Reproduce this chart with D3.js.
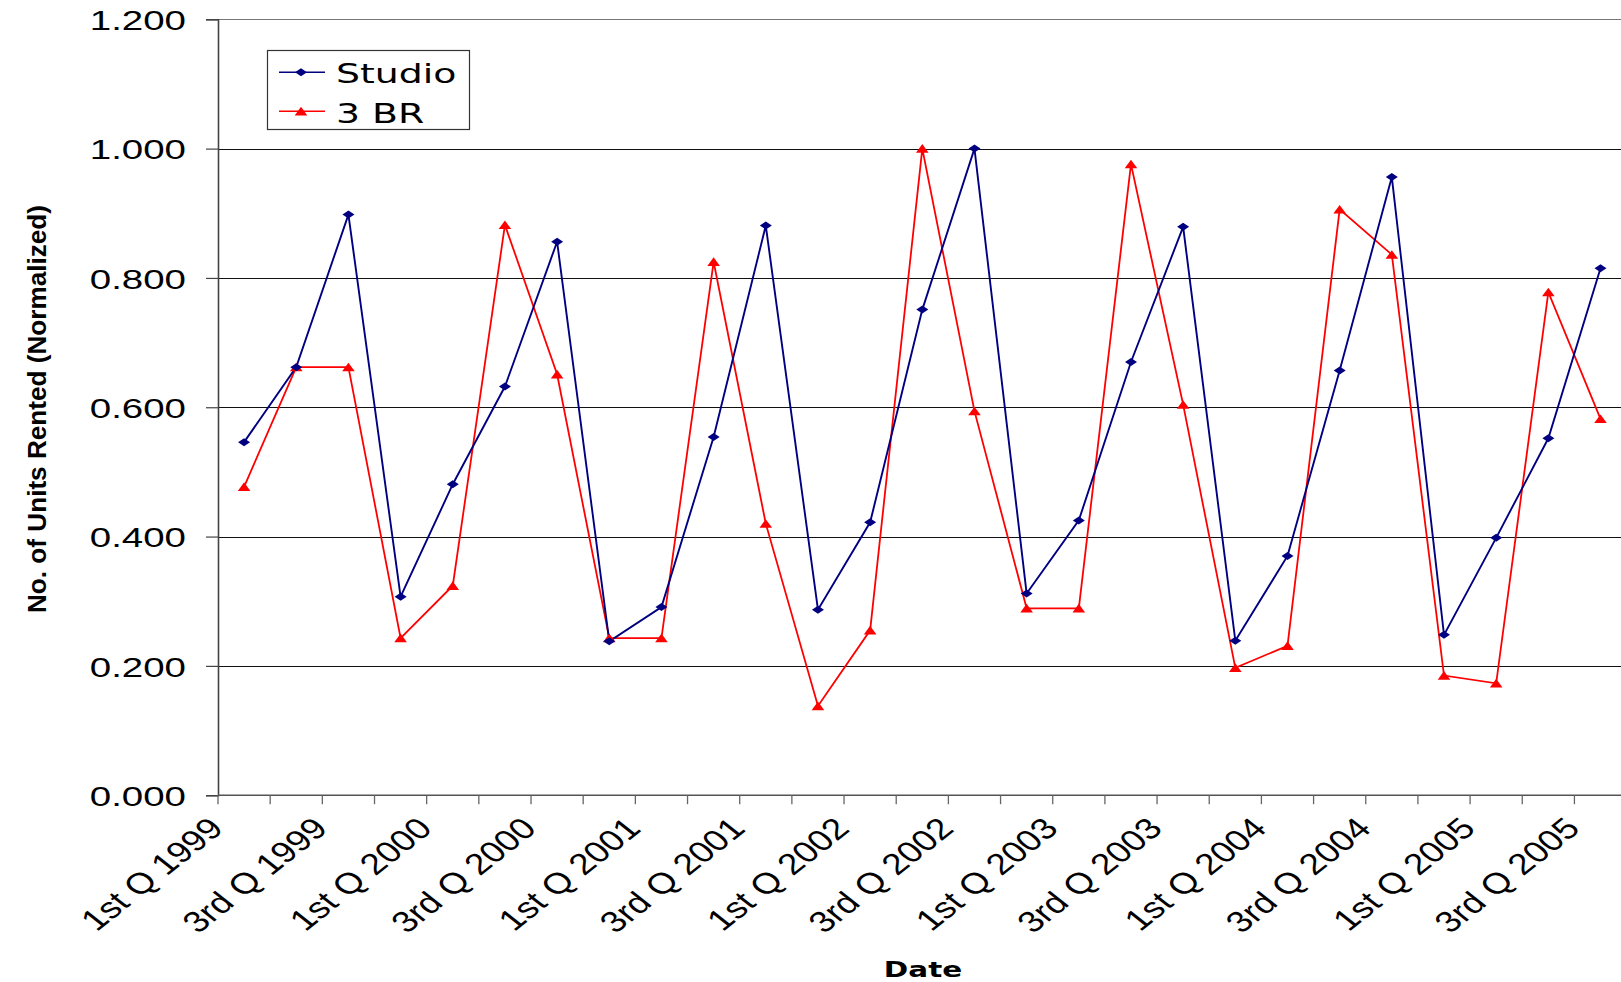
<!DOCTYPE html>
<html>
<head>
<meta charset="utf-8">
<script src="https://cdn.jsdelivr.net/npm/d3@7"></script>
<style>
  html, body { margin: 0; padding: 0; background: #fff; }
  svg { display: block; }
</style>
</head>
<body>
<svg id="chart" width="1621" height="982"></svg>
<script>
// Quarterly rentals, normalized to each unit type's peak quarter
const quarters = [
  "1st Q 1999", "2nd Q 1999", "3rd Q 1999", "4th Q 1999",
  "1st Q 2000", "2nd Q 2000", "3rd Q 2000", "4th Q 2000",
  "1st Q 2001", "2nd Q 2001", "3rd Q 2001", "4th Q 2001",
  "1st Q 2002", "2nd Q 2002", "3rd Q 2002", "4th Q 2002",
  "1st Q 2003", "2nd Q 2003", "3rd Q 2003", "4th Q 2003",
  "1st Q 2004", "2nd Q 2004", "3rd Q 2004", "4th Q 2004",
  "1st Q 2005", "2nd Q 2005", "3rd Q 2005"
];
const studio = [
  0.546, 0.662, 0.898, 0.307, 0.481, 0.632, 0.856, 0.238, 0.291,
  0.554, 0.881, 0.287, 0.422, 0.751, 1.000, 0.312, 0.425, 0.670,
  0.879, 0.239, 0.370, 0.657, 0.956, 0.248, 0.398, 0.552, 0.815
];
const threeBR = [
  0.477, 0.662, 0.662, 0.243, 0.324, 0.882, 0.651, 0.243, 0.243,
  0.825, 0.420, 0.138, 0.255, 1.000, 0.594, 0.289, 0.289, 0.976,
  0.604, 0.197, 0.231, 0.906, 0.836, 0.185, 0.173, 0.778, 0.582
];
const yTicks = [0, 0.2, 0.4, 0.6, 0.8, 1.0, 1.2];
const seriesNames = ["Studio", "3 BR"];

(function draw() {
  const svg = d3.select("#chart");
  const W = 1621, H = 982;
  const plotLeft = 218, plotRight = 1626.6, plotTop = 19.3, plotBottom = 795.2;

  const x = d3.scaleBand().domain(quarters).range([plotLeft, plotRight]).padding(0);
  const y = d3.scaleLinear().domain([0, 1.2]).range([plotBottom, plotTop]);
  const cx = d => x(d) + x.bandwidth() / 2;

  svg.append("rect").attr("width", W).attr("height", H).attr("fill", "#fff");

  // horizontal gridlines
  svg.append("g")
    .selectAll("line")
    .data(yTicks.filter(d => d > 0))
    .join("line")
    .attr("x1", plotLeft).attr("x2", W)
    .attr("y1", d => Math.round(y(d)) + 0.5).attr("y2", d => Math.round(y(d)) + 0.5)
    .attr("stroke", d => d === 1.2 ? "#777" : "#111")
    .attr("stroke-width", 1);

  // y axis
  const yAxis = svg.append("g")
    .attr("transform", `translate(${plotLeft},0)`)
    .call(d3.axisLeft(y).tickValues(yTicks).tickSize(12).tickPadding(0)
      .tickFormat(d3.format(".3f")));
  yAxis.select(".domain").attr("stroke", "#444").attr("stroke-width", 1.6);
  yAxis.selectAll(".tick line").attr("stroke", "#444").attr("stroke-width", 1.2);
  yAxis.selectAll(".tick text")
    .attr("x", 0).attr("dy", "0.36em")
    .attr("transform", "translate(-32,0) scale(1.35,1)")
    .attr("text-anchor", "end")
    .attr("fill", "#000")
    .style("font-family", "'Liberation Sans', Arial, sans-serif")
    .style("font-size", "28.5px");

  // x axis line
  svg.append("line")
    .attr("x1", plotLeft).attr("x2", W)
    .attr("y1", plotBottom).attr("y2", plotBottom)
    .attr("stroke", "#555").attr("stroke-width", 1.6);

  // category boundary ticks
  svg.append("g")
    .selectAll("line")
    .data(quarters.concat([null]))
    .join("line")
    .attr("x1", d => d === null ? plotRight : x(d))
    .attr("x2", d => d === null ? plotRight : x(d))
    .attr("y1", plotBottom).attr("y2", plotBottom + 9)
    .attr("stroke", "#666").attr("stroke-width", 1.3);

  // x labels (every other quarter)
  const xAxis = svg.append("g")
    .attr("transform", `translate(0,${plotBottom})`)
    .call(d3.axisBottom(x).tickSize(0)
      .tickFormat((d, i) => i % 2 === 0 ? d : ""));
  xAxis.select(".domain").remove();
  xAxis.selectAll(".tick text")
    .attr("x", 0).attr("y", 0).attr("dy", 0)
    .attr("transform", "translate(-19,35) scale(1.26,1) rotate(-45)")
    .attr("text-anchor", "end")
    .attr("fill", "#000")
    .style("font-family", "'Liberation Sans', Arial, sans-serif")
    .style("font-size", "29.5px");

  // series lines
  const line = d3.line().x((d, i) => cx(quarters[i])).y(d => y(d));
  svg.append("path").datum(threeBR)
    .attr("d", line).attr("fill", "none")
    .attr("stroke", "#ff0000").attr("stroke-width", 1.8);
  svg.append("path").datum(studio)
    .attr("d", line).attr("fill", "none")
    .attr("stroke", "#000080").attr("stroke-width", 1.9);

  const diamond = "M0,-4L6,0L0,4L-6,0Z";
  const triangle = "M0,-4.5L6.3,4.2L-6.3,4.2Z";

  svg.append("g").selectAll("path")
    .data(threeBR)
    .join("path")
    .attr("d", triangle)
    .attr("transform", (d, i) => `translate(${cx(quarters[i])},${y(d)})`)
    .attr("fill", "#ff0000");
  svg.append("g").selectAll("path")
    .data(studio)
    .join("path")
    .attr("d", diamond)
    .attr("transform", (d, i) => `translate(${cx(quarters[i])},${y(d)})`)
    .attr("fill", "#000080");

  // legend
  const lg = svg.append("g");
  lg.append("rect")
    .attr("x", 267.5).attr("y", 50.5).attr("width", 202).attr("height", 79)
    .attr("fill", "#fff").attr("stroke", "#333").attr("stroke-width", 1.2);
  const legendItems = [
    { name: seriesNames[0], color: "#000080", marker: diamond, ly: 72.3, ty: 82.7 },
    { name: seriesNames[1], color: "#ff0000", marker: triangle, ly: 111.3, ty: 122.7 }
  ];
  legendItems.forEach(it => {
    lg.append("line")
      .attr("x1", 279).attr("x2", 325).attr("y1", it.ly).attr("y2", it.ly)
      .attr("stroke", it.color).attr("stroke-width", 1.6);
    lg.append("path").attr("d", it.marker)
      .attr("transform", `translate(301,${it.ly})`).attr("fill", it.color);
    lg.append("text")
      .attr("transform", `translate(336,${it.ty}) scale(1.38,1)`)
      .style("font-family", "'DejaVu Sans', Verdana, sans-serif")
      .style("font-size", "27.4px")
      .attr("fill", "#000")
      .text(it.name);
  });

  // axis titles
  svg.append("text")
    .attr("transform", "translate(46,409) rotate(-90)")
    .attr("text-anchor", "middle")
    .attr("textLength", 408).attr("lengthAdjust", "spacingAndGlyphs")
    .style("font-family", "'Liberation Sans', Arial, sans-serif")
    .style("font-weight", "bold")
    .style("font-size", "25.5px")
    .attr("fill", "#000")
    .text("No. of Units Rented (Normalized)");

  svg.append("text")
    .attr("transform", "translate(923,977) scale(1.37,1)")
    .attr("text-anchor", "middle")
    .style("font-family", "'DejaVu Sans', Verdana, sans-serif")
    .style("font-weight", "bold")
    .style("font-size", "21.5px")
    .attr("fill", "#000")
    .text("Date");
})();
</script>
</body>
</html>
